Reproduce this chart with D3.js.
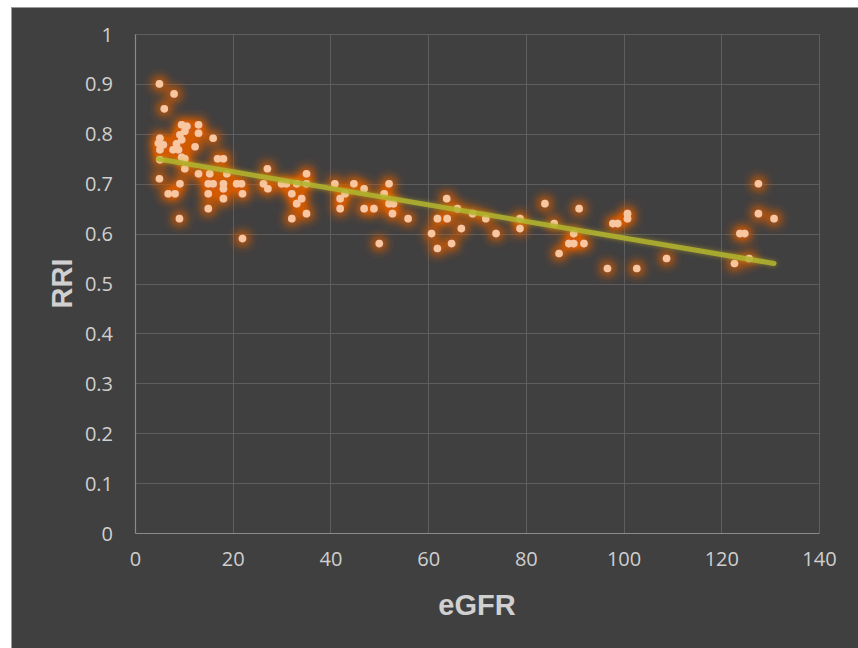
<!DOCTYPE html>
<html>
<head>
<meta charset="utf-8">
<script src="https://cdn.jsdelivr.net/npm/d3@7"></script>
<style>
  html, body { margin: 0; padding: 0; background: #ffffff; }
  svg { display: block; }
</style>
</head>
<body>
<svg id="chart" width="858" height="648"></svg>
<script>
// ---- data ----
const egfr = [
  5, 8, 6,
  9.55, 10.6, 13, 13, 10.2, 9.2, 9.55, 8.5, 5.1, 4.8, 5.8, 7.8, 8.9, 5.1, 9.55, 12.3, 16,
  5.1, 10.2, 16.9, 18.1, 27.1, 5.0, 10.2, 13, 15.3, 18.8, 9.2, 15, 16, 18.1, 20.8, 21.8, 26.3,
  27.2, 6.8, 8.2, 15, 18.1, 22, 18.1, 15, 9.1, 22,
  30, 31, 33.1, 35.1, 35.1, 32.1, 34.1, 33.1, 35.1, 32.1,
  40.9, 43, 42, 42, 44.8, 46.9, 46.9, 48.9, 50, 52, 51, 52, 52.9, 52.7,
  55.9, 63.8, 66, 61.9, 63.9, 60.7, 66.8, 69.1, 71.8, 73.9, 61.9, 64.8, 78.8, 78.8,
  83.9, 85.8, 90.9, 89.8, 88.8, 89.8, 91.9, 86.8, 97.8, 98.8, 100.8, 100.8, 96.7, 102.7, 108.8,
  127.6, 127.6, 130.8, 123.8, 124.8, 125.7, 122.7
];
const rri = [
  0.90, 0.88, 0.85,
  0.818, 0.815, 0.818, 0.801, 0.805, 0.798, 0.788, 0.780, 0.791, 0.781, 0.778, 0.768, 0.768, 0.768, 0.753, 0.774, 0.791,
  0.748, 0.75, 0.75, 0.75, 0.73, 0.71, 0.73, 0.72, 0.72, 0.72, 0.70, 0.70, 0.70, 0.70, 0.70, 0.70, 0.70,
  0.69, 0.68, 0.68, 0.68, 0.69, 0.68, 0.67, 0.65, 0.63, 0.59,
  0.70, 0.70, 0.70, 0.70, 0.72, 0.68, 0.67, 0.66, 0.64, 0.63,
  0.70, 0.68, 0.67, 0.65, 0.70, 0.69, 0.65, 0.65, 0.58, 0.70, 0.68, 0.66, 0.66, 0.64,
  0.63, 0.67, 0.65, 0.63, 0.63, 0.60, 0.61, 0.64, 0.63, 0.60, 0.57, 0.58, 0.63, 0.61,
  0.66, 0.62, 0.65, 0.60, 0.58, 0.58, 0.58, 0.56, 0.62, 0.62, 0.64, 0.63, 0.53, 0.53, 0.55,
  0.70, 0.64, 0.63, 0.60, 0.60, 0.55, 0.54
];
const xTicks = [0, 20, 40, 60, 80, 100, 120, 140];
const yTicks = [0, 0.1, 0.2, 0.3, 0.4, 0.5, 0.6, 0.7, 0.8, 0.9, 1];
const trendSlope = -0.00166;
const trendIntercept = 0.7573;
const xTitle = "eGFR";
const yTitle = "RRI";

// ---- layout ----
const svg = d3.select("#chart");
const W = 858, H = 648;
const plot = { left: 135, right: 819, top: 34, bottom: 533 };

// outer dark panel
svg.append("rect").attr("x", 11).attr("y", 7).attr("width", W - 11).attr("height", H - 7)
  .attr("fill", "#404040");
svg.append("line").attr("x1", 11.5).attr("x2", 11.5).attr("y1", 7).attr("y2", H)
  .attr("stroke", "#9a9a9a").attr("stroke-width", 1);
svg.append("line").attr("x1", 11).attr("x2", W).attr("y1", 7.5).attr("y2", 7.5)
  .attr("stroke", "#9a9a9a").attr("stroke-width", 1);

const x = d3.scaleLinear().domain([0, 140]).range([plot.left, plot.right]);
const y = d3.scaleLinear().domain([0, 1]).range([plot.bottom, plot.top]);

// filters
const defs = svg.append("defs");
const glow = defs.append("filter").attr("id", "glow")
  .attr("x", "-300%").attr("y", "-300%").attr("width", "700%").attr("height", "700%");
glow.append("feMorphology").attr("in", "SourceAlpha").attr("operator", "dilate").attr("radius", 1).attr("result", "d");
glow.append("feGaussianBlur").attr("in", "d").attr("stdDeviation", 6).attr("result", "b");
glow.append("feFlood").attr("flood-color", "#d25a0a").attr("flood-opacity", 1).attr("result", "c");
glow.append("feComposite").attr("in", "c").attr("in2", "b").attr("operator", "in").attr("result", "g");
glow.append("feComponentTransfer").attr("in", "g").attr("result", "g2")
  .append("feFuncA").attr("type", "linear").attr("slope", 2.2);
const m = glow.append("feMerge");
m.append("feMergeNode").attr("in", "g2");
m.append("feMergeNode").attr("in", "SourceGraphic");

const lglow = defs.append("filter").attr("id", "lglow")
  .attr("x", "-10%").attr("y", "-300%").attr("width", "120%").attr("height", "700%");
lglow.append("feGaussianBlur").attr("in", "SourceAlpha").attr("stdDeviation", 2.5).attr("result", "b");
lglow.append("feFlood").attr("flood-color", "#c8b020").attr("flood-opacity", 0.6).attr("result", "c");
lglow.append("feComposite").attr("in", "c").attr("in2", "b").attr("operator", "in").attr("result", "g");
const m2 = lglow.append("feMerge");
m2.append("feMergeNode").attr("in", "g");
m2.append("feMergeNode").attr("in", "SourceGraphic");

// gridlines
const grid = svg.append("g");
grid.selectAll("line.h").data(yTicks.filter(d => d > 0)).join("line")
  .attr("x1", plot.left).attr("x2", plot.right)
  .attr("y1", d => Math.round(y(d)) + 0.5).attr("y2", d => Math.round(y(d)) + 0.5)
  .attr("stroke", "#5e5e5e").attr("stroke-width", 1);
grid.selectAll("line.v").data(xTicks.filter(d => d > 0)).join("line")
  .attr("y1", plot.top).attr("y2", plot.bottom)
  .attr("x1", d => Math.round(x(d)) + 0.5).attr("x2", d => Math.round(x(d)) + 0.5)
  .attr("stroke", "#5e5e5e").attr("stroke-width", 1);

// axes
const xAxis = svg.append("g").attr("transform", `translate(0,${plot.bottom})`)
  .call(d3.axisBottom(x).tickValues(xTicks).tickSize(0).tickPadding(22));
const yAxis = svg.append("g").attr("transform", `translate(${plot.left},0)`)
  .call(d3.axisLeft(y).tickValues(yTicks).tickSize(0).tickPadding(22).tickFormat(d3.format("")));
[xAxis, yAxis].forEach(a => {
  a.select(".domain").attr("stroke", "#8a8a8a").attr("stroke-width", 1.2);
  a.selectAll("text").attr("fill", "#cfcfcf")
    .style("font-family", "'Open Sans', 'Liberation Sans', sans-serif")
    .style("font-size", "20px");
});
xAxis.selectAll("text").attr("dy", "0.55em");
yAxis.selectAll("text").attr("dy", "0.35em");

// points
const pts = d3.zip(egfr, rri);
svg.append("g").attr("filter", "url(#glow)")
  .selectAll("circle").data(pts).join("circle")
  .attr("cx", d => x(d[0])).attr("cy", d => y(d[1])).attr("r", 3.8)
  .attr("fill", "#f8c7a0");

// trend line
const xmin = d3.min(egfr), xmax = d3.max(egfr);
svg.append("line")
  .attr("x1", x(xmin)).attr("y1", y(trendIntercept + trendSlope * xmin))
  .attr("x2", x(xmax)).attr("y2", y(trendIntercept + trendSlope * xmax))
  .attr("stroke", "#b3b52e").attr("stroke-width", 5).attr("stroke-linecap", "round")
  .attr("opacity", 0.9).attr("filter", "url(#lglow)");

// titles
svg.append("text").attr("x", (plot.left + plot.right) / 2).attr("y", 615)
  .attr("text-anchor", "middle").attr("fill", "#d0d0d0")
  .style("font-family", "'Liberation Sans', Arial, sans-serif").style("font-weight", "bold")
  .style("font-size", "29px").text(xTitle);
svg.append("text").attr("transform", `translate(72,${(plot.top + plot.bottom) / 2}) rotate(-90)`)
  .attr("text-anchor", "middle").attr("fill", "#d0d0d0")
  .style("font-family", "'Liberation Sans', Arial, sans-serif").style("font-weight", "bold")
  .style("font-size", "29px").text(yTitle);
</script>
</body>
</html>
